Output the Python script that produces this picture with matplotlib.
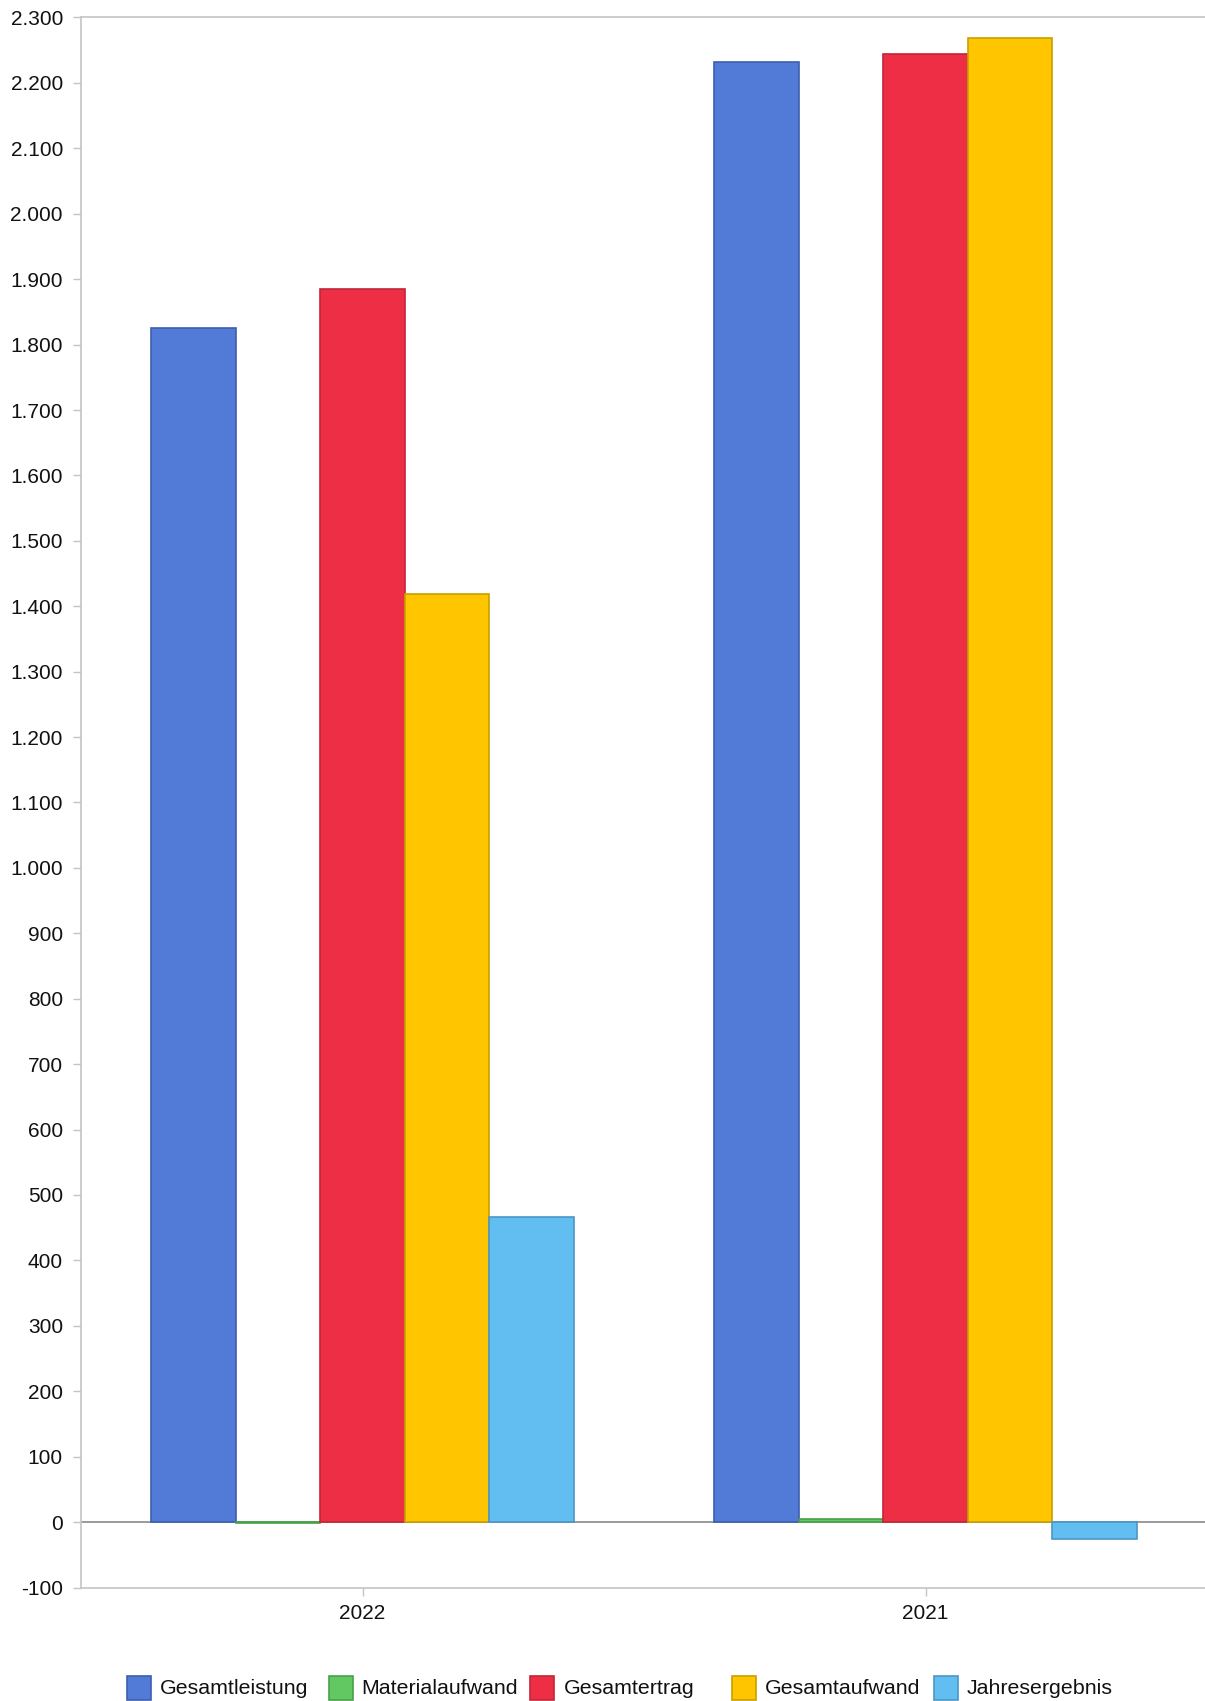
import matplotlib
matplotlib.use("Agg")
import matplotlib.pyplot as plt
import numpy as np
from matplotlib.patches import Rectangle
from matplotlib.ticker import FuncFormatter, MultipleLocator

plt.rcParams["font.family"] = ["Liberation Sans", "DejaVu Sans"]

years = ["2022", "2021"]
series = ["Gesamtleistung", "Materialaufwand", "Gesamtertrag", "Gesamtaufwand", "Jahresergebnis"]
gesamtleistung = [1825, 2232]
materialaufwand = [-2, 5]
gesamtertrag = [1885, 2244]
gesamtaufwand = [1418, 2268]
jahresergebnis = [467, -26]

values = [gesamtleistung, materialaufwand, gesamtertrag, gesamtaufwand, jahresergebnis]
faces = ["#517BD6", "#62C962", "#EE2E44", "#FFC600", "#62BDF0"]
edges = ["#3D5FAE", "#48A048", "#C22538", "#C9A000", "#4A97C6"]

W, H = 1205, 1701
fig = plt.figure(figsize=(W / 100, H / 100), dpi=100)
ax = fig.add_axes([81 / W, 1 - 1587.5 / H, (W - 79) / W, (1587.5 - 17.5) / H])

x = np.arange(len(years))
width = 0.15
for i, (name, vals) in enumerate(zip(series, values)):
    ax.bar(x + (i - 2) * width, vals, width, color=faces[i], edgecolor=edges[i],
           linewidth=1.2, label=name, zorder=3)

ax.axhline(0, color="#9a9a9a", linewidth=1.4, zorder=2)

ax.set_xlim(-0.5, 1.5)
ax.set_ylim(-100, 2300)
ax.yaxis.set_major_locator(MultipleLocator(100))
ax.yaxis.set_major_formatter(FuncFormatter(lambda v, p: f"{int(v):,}".replace(",", ".")))
ax.set_xticks(x)
ax.set_xticklabels(years)

for side in ["left", "top", "bottom"]:
    ax.spines[side].set_color("#c4c4c4")
    ax.spines[side].set_linewidth(1.2)
ax.spines["right"].set_visible(False)
ax.tick_params(axis="both", colors="#c4c4c4", labelcolor="#111111", labelsize=15,
               length=6, width=1.0)
ax.tick_params(axis="y", pad=7)
ax.tick_params(axis="x", pad=6)

# legend, evenly spaced entries along the bottom
step = 201.7
x0 = 127
for i, name in enumerate(series):
    left = x0 + i * step
    fig.patches.append(Rectangle((left / W, 1 - 1700 / H), 24 / W, 24 / H,
                                 transform=fig.transFigure, facecolor=faces[i],
                                 edgecolor=edges[i], linewidth=1.2))
    fig.text((left + 33) / W, 1 - 1688 / H, name, fontsize=15.4, va="center", ha="left",
             color="#111111")

fig.savefig("out.png", dpi=100)
